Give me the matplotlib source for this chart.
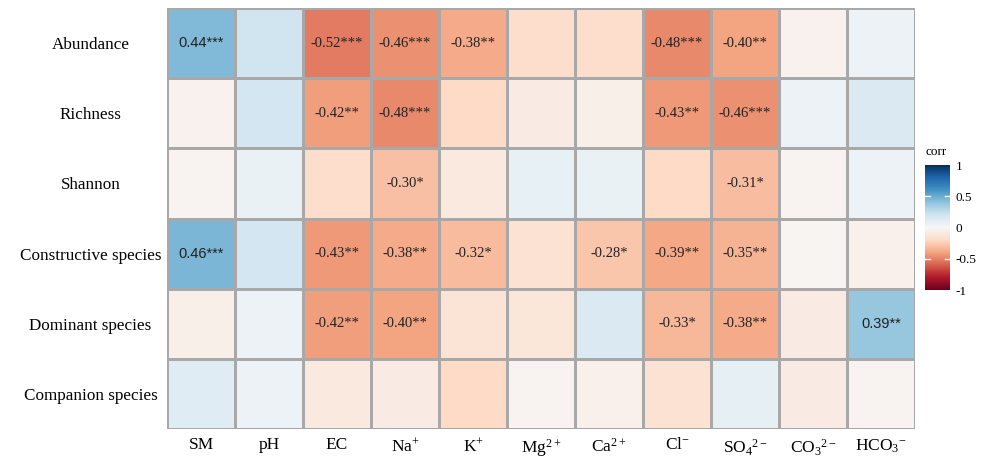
import numpy as np
import matplotlib
matplotlib.use('Agg')
import matplotlib.pyplot as plt
from matplotlib.colors import Normalize

# Data #

rows = ['Abundance', 'Richness', 'Shannon', 'Constructive species',
        'Dominant species', 'Companion species']
cols = ['SM', 'pH', 'EC', r'Na$^{+}$', r'K$^{+}$', r'Mg$^{2+}$', r'Ca$^{2+}$',
        r'Cl$^{-}$', r'SO$_4$$^{2-}$', r'CO$_3$$^{2-}$', r'HCO$_3$$^{-}$']

corr = np.array([
    [0.44, 0.20, -0.52, -0.46, -0.38, -0.18, -0.18, -0.48, -0.40, -0.04, 0.06],
    [-0.04, 0.18, -0.42, -0.48, -0.20, -0.08, -0.06, -0.43, -0.46, 0.06, 0.15],
    [-0.03, 0.07, -0.18, -0.30, -0.10, 0.08, 0.07, -0.20, -0.31, -0.03, 0.06],
    [0.46, 0.18, -0.43, -0.38, -0.32, -0.15, -0.28, -0.39, -0.35, -0.02, -0.05],
    [-0.06, 0.06, -0.42, -0.40, -0.14, -0.12, 0.15, -0.33, -0.38, -0.08, 0.39],
    [0.12, 0.06, -0.10, -0.08, -0.20, -0.03, -0.05, -0.15, 0.09, -0.08, -0.03],
])

stars = [
    ['***', '', '***', '***', '**', '', '', '***', '**', '', ''],
    ['', '', '**', '***', '', '', '', '**', '***', '', ''],
    ['', '', '', '*', '', '', '', '', '*', '', ''],
    ['***', '', '**', '**', '*', '', '*', '**', '**', '', ''],
    ['', '', '**', '**', '', '', '', '*', '**', '', '**'],
    ['', '', '', '', '', '', '', '', '', '', ''],
]

# Plot #

plt.rcParams['mathtext.fontset'] = 'custom'
plt.rcParams['mathtext.rm'] = 'Liberation Serif'
plt.rcParams['mathtext.it'] = 'Liberation Serif:italic'
plt.rcParams['font.family'] = 'Liberation Serif'

fig = plt.figure(figsize=(9.87, 4.61), dpi=100)
ax = fig.add_axes([0.1692, 0.0694, 0.7579, 0.9132])

cmap = plt.get_cmap('RdBu')
norm = Normalize(vmin=-1, vmax=1)
mesh = ax.pcolormesh(corr, cmap=cmap, norm=norm, edgecolors='#a8a8a8', linewidth=0.8)
ax.set_xlim(0, len(cols))
ax.set_ylim(len(rows), 0)

for i in range(len(rows)):
    for j in range(len(cols)):
        if stars[i][j]:
            val = corr[i, j]
            fam = 'Liberation Sans' if val > 0 else 'Liberation Serif'
            ax.text(j + 0.5, i + 0.5, '%.2f%s' % (val, stars[i][j]),
                    ha='center', va='center', fontsize=10.5, color='#222222',
                    family=fam)

ax.set_xticks(np.arange(len(cols)) + 0.5)
ax.set_xticklabels(cols, fontsize=12.5)
ax.set_yticks(np.arange(len(rows)) + 0.5)
ax.set_yticklabels(rows, fontsize=12.3)
for lab in ax.get_yticklabels():
    lab.set_horizontalalignment('center')
ax.tick_params(axis='y', length=0, pad=55)
ax.tick_params(axis='x', length=0, pad=6)
for s in ax.spines.values():
    s.set_visible(False)

# Colour bar
cax = fig.add_axes([0.9372, 0.3709, 0.0253, 0.2711])
cb = fig.colorbar(mesh, cax=cax, ticks=[-1, -0.5, 0, 0.5, 1])
cb.ax.set_yticklabels(['-1', '-0.5', '0', '0.5', '1'], fontsize=9.5)
cb.outline.set_visible(False)
cb.ax.tick_params(length=0, pad=4)
for t in [-0.5, 0.5]:
    cax.axhline(t, xmin=0, xmax=0.2, color='white', lw=1)
    cax.axhline(t, xmin=0.8, xmax=1, color='white', lw=1)
cax.text(0, 1.06, 'corr', transform=cax.transAxes, fontsize=9.5, ha='left', va='bottom')

fig.savefig('out.png', dpi=100)
